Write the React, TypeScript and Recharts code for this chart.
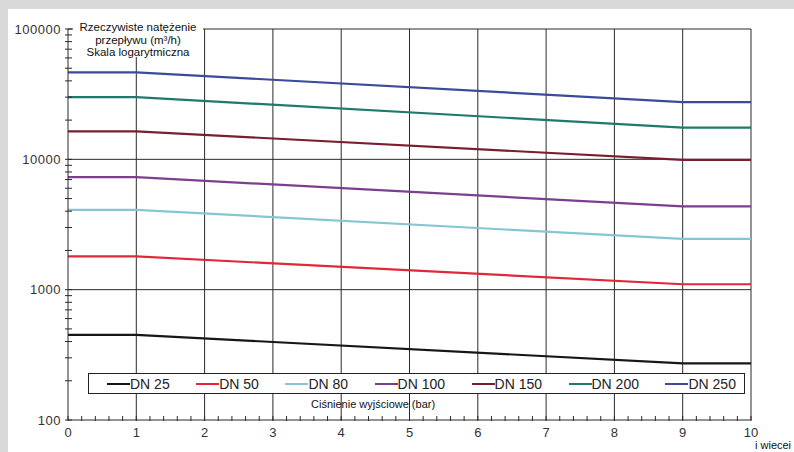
import React from "react";
import { LineChart, Line, XAxis, YAxis, ReferenceLine, Legend } from "recharts";

// ciśnienie wyjściowe (bar): punkty załamania krzywych
const pressure = [0, 1, 9, 10];

// rzeczywiste natężenie przepływu (m3/h)
const dn25 = [450, 450, 272, 272];
const dn50 = [1800, 1800, 1100, 1100];
const dn80 = [4100, 4100, 2450, 2450];
const dn100 = [7300, 7300, 4350, 4350];
const dn150 = [16400, 16400, 9900, 9900];
const dn200 = [30000, 30000, 17500, 17500];
const dn250 = [46500, 46500, 27500, 27500];

const xLabels = [0, 1, 2, 3, 4, 5, 6, 7, 8, 9, 10];
const yLabels = [100, 1000, 10000, 100000];
const yMinor = [
  200, 300, 400, 500, 600, 700, 800, 900,
  2000, 3000, 4000, 5000, 6000, 7000, 8000, 9000,
  20000, 30000, 40000, 50000, 60000, 70000, 80000, 90000,
];
const xMinor = Array.from({ length: 51 }, (_, i) => Math.round(i * 2) / 10);

const series = [
  { key: "dn25", name: "DN 25", values: dn25, color: "#161616" },
  { key: "dn50", name: "DN 50", values: dn50, color: "#e0283a" },
  { key: "dn80", name: "DN 80", values: dn80, color: "#86c6d2" },
  { key: "dn100", name: "DN 100", values: dn100, color: "#7b3f8e" },
  { key: "dn150", name: "DN 150", values: dn150, color: "#7a1e30" },
  { key: "dn200", name: "DN 200", values: dn200, color: "#1d7a6c" },
  { key: "dn250", name: "DN 250", values: dn250, color: "#3b4a9a" },
];

const chartData = pressure.map((p, i) => {
  const row: Record<string, number> = { p };
  series.forEach((s) => {
    row[s.key] = s.values[i];
  });
  return row;
});

const FONT = '"Liberation Sans", Arial, sans-serif';
const GRID = "#2a2a2a";

function YTick(props: any) {
  const { x, y, payload } = props;
  const major = yLabels.includes(payload.value);
  return (
    <g>
      <line x1={x - 3} x2={x + 4} y1={y} y2={y} stroke={GRID} strokeWidth={1} />
      {major && (
        <text
          x={x - 7}
          y={y}
          dy={4.5}
          textAnchor="end"
          fontSize={13}
          letterSpacing={0.5}
          fill="#333"
          fontFamily={FONT}
        >
          {payload.value}
        </text>
      )}
    </g>
  );
}

function XTick(props: any) {
  const { x, y, payload } = props;
  const major = xLabels.includes(payload.value);
  return (
    <g>
      <line x1={x} x2={x} y1={y - 4} y2={y + 1} stroke={GRID} strokeWidth={1} />
      {major && (
        <text x={x} y={y + 17} textAnchor="middle" fontSize={13} fill="#333" fontFamily={FONT}>
          {payload.value}
        </text>
      )}
    </g>
  );
}

// legenda w kolejności serii (bez sortowania)
function LegendBox() {
  return (
    <div
      style={{
        width: 657,
        height: 21,
        boxSizing: "border-box",
        border: "1px solid #222",
        background: "#fff",
        display: "flex",
        alignItems: "center",
        paddingLeft: 18,
        gap: 26.5,
        fontFamily: FONT,
        fontSize: 14,
        color: "#222",
      }}
    >
      {series.map((s) => (
        <div key={s.key} style={{ display: "flex", alignItems: "center" }}>
          <span style={{ display: "inline-block", width: 23, height: 2, background: s.color }} />
          <span style={{ lineHeight: "14px" }}>{s.name}</span>
        </div>
      ))}
    </div>
  );
}

export default function App() {
  return (
    <div
      style={{
        position: "absolute",
        left: 0,
        top: 0,
        width: 794,
        height: 452,
        background: "#d9d9d9",
        overflow: "hidden",
      }}
    >
      <div style={{ position: "absolute", left: 8, top: 9, right: 0, bottom: 0, background: "#fff" }} />
      <div style={{ position: "absolute", left: 0, top: 0 }}>
        <LineChart
          width={794}
          height={452}
          data={chartData}
          margin={{ top: 29, right: 43, bottom: 0, left: 8 }}
        >
          <XAxis
            dataKey="p"
            type="number"
            domain={[0, 10]}
            ticks={xMinor}
            interval={0}
            tick={<XTick />}
            tickLine={false}
            tickSize={0}
            tickMargin={0}
            height={32}
            axisLine={{ stroke: GRID, strokeWidth: 1 }}
          />
          <YAxis
            type="number"
            scale="log"
            domain={[100, 100000]}
            ticks={[...yLabels, ...yMinor].sort((a, b) => a - b)}
            interval={0}
            allowDataOverflow
            tick={<YTick />}
            tickLine={false}
            tickSize={0}
            tickMargin={0}
            width={60}
            axisLine={{ stroke: GRID, strokeWidth: 1 }}
          />
          {xLabels.slice(1).map((v) => (
            <ReferenceLine key={"vx" + v} x={v} stroke={GRID} strokeWidth={1} />
          ))}
          {yLabels.slice(1).map((v) => (
            <ReferenceLine key={"hy" + v} y={v} stroke={GRID} strokeWidth={1} />
          ))}
          <Legend
            layout="horizontal"
            verticalAlign="middle"
            content={<LegendBox />}
            wrapperStyle={{ position: "absolute", left: 88, top: 373, width: 657, height: 21 }}
          />
          {series.map((s) => (
            <Line
              key={s.key}
              dataKey={s.key}
              name={s.name}
              type="linear"
              stroke={s.color}
              strokeWidth={2.2}
              dot={false}
              activeDot={false}
              isAnimationActive={false}
            />
          ))}
        </LineChart>
      </div>
      <div
        style={{
          position: "absolute",
          left: 73,
          top: 21,
          width: 130,
          height: 36,
          background: "#fff",
          textAlign: "center",
          fontFamily: FONT,
          fontSize: 11.5,
          lineHeight: "12.5px",
          color: "#111",
          whiteSpace: "nowrap",
        }}
      >
        Rzeczywiste natężenie
        <br />
        przepływu (m³/h)
        <br />
        Skala logarytmiczna
      </div>
      <div
        style={{
          position: "absolute",
          left: 311,
          top: 398,
          fontFamily: FONT,
          fontSize: 11,
          color: "#111",
          whiteSpace: "nowrap",
        }}
      >
        Ciśnienie wyjściowe (bar)
      </div>
      <div
        style={{
          position: "absolute",
          left: 755,
          top: 439,
          fontFamily: FONT,
          fontSize: 11,
          color: "#111",
          whiteSpace: "nowrap",
        }}
      >
        i wiecei
      </div>
    </div>
  );
}
